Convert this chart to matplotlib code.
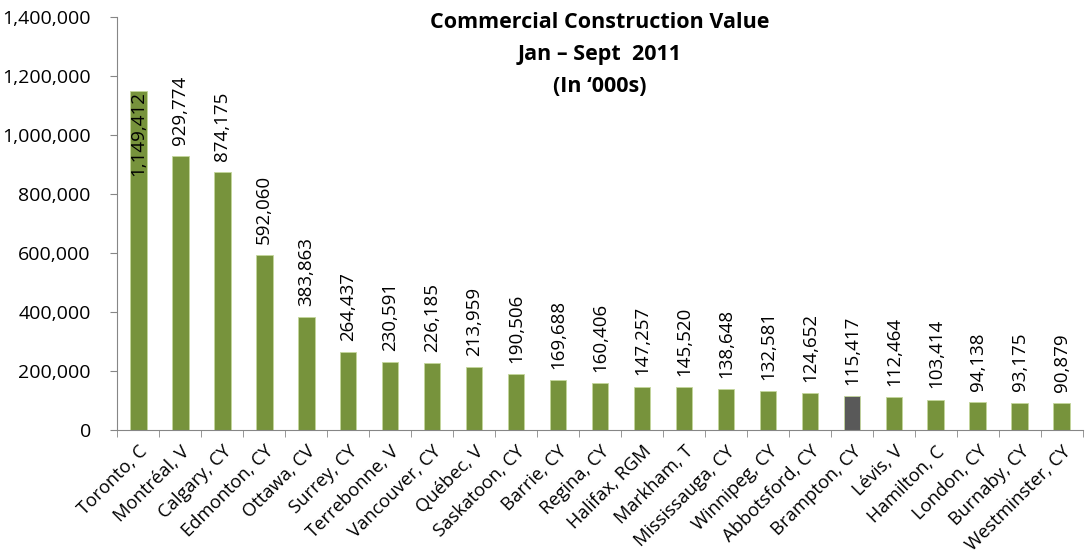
import matplotlib.pyplot as plt
from matplotlib.ticker import FuncFormatter, FixedLocator

cities = ['Toronto, C', 'Montréal, V', 'Calgary, CY', 'Edmonton, CY', 'Ottawa, CV',
          'Surrey, CY', 'Terrebonne, V', 'Vancouver, CY', 'Québec, V', 'Saskatoon, CY',
          'Barrie, CY', 'Regina, CY', 'Halifax, RGM', 'Markham, T', 'Mississauga, CY',
          'Winnipeg, CY', 'Abbotsford, CY', 'Brampton, CY', 'Lévis, V', 'Hamilton, C',
          'London, CY', 'Burnaby, CY', 'Westminster, CY']
values = [1149412, 929774, 874175, 592060, 383863, 264437, 230591, 226185, 213959,
          190506, 169688, 160406, 147257, 145520, 138648, 132581, 124652, 115417,
          112464, 103414, 94138, 93175, 90879]
highlight = 'Brampton, CY'

plt.rcParams['font.family'] = ['Open Sans', 'DejaVu Sans']

fig = plt.figure(figsize=(10.85, 5.5), dpi=100)
ax = fig.add_axes([0.108, 0.218, 0.89, 0.751])

x = list(range(len(cities)))
colors = ['#595959' if c == highlight else '#77933C' for c in cities]
ax.bar(x, values, width=0.4, color=colors, edgecolor='#c4d79b', linewidth=0.6, zorder=2)

for i, v in enumerate(values):
    if v > 1100000:
        ax.text(i, v, f'{v:,}', rotation=90, ha='center', va='top', fontsize=13.5, zorder=3)
    else:
        ax.text(i, v + 38000, f'{v:,}', rotation=90, ha='center', va='bottom', fontsize=13.5, zorder=3)

ax.set_xlim(-0.5, len(cities) - 0.5)
ax.set_ylim(0, 1400000)
ax.set_yticks(range(0, 1400001, 200000))
ax.yaxis.set_major_formatter(FuncFormatter(lambda v, p: f'{int(v):,}'))
ax.tick_params(axis='y', labelsize=14, length=5, color='#868686', direction='out', pad=14)

ax.set_xticks(x)
ax.set_xticklabels(cities, rotation=45, ha='right', rotation_mode='anchor', fontsize=13.2)
ax.xaxis.set_minor_locator(FixedLocator([i - 0.5 for i in range(len(cities) + 1)]))
ax.tick_params(axis='x', which='major', length=0, pad=9)
ax.tick_params(axis='x', which='minor', length=5, color='#868686')

for s in ['top', 'right']:
    ax.spines[s].set_visible(False)
for s in ['left', 'bottom']:
    ax.spines[s].set_color('#868686')

fig.text(0.553, 0.978, 'Commercial Construction Value\nJan – Sept  2011\n(In ‘000s)',
         ha='center', va='top', fontsize=15.5, fontweight='bold', linespacing=1.7)

fig.savefig('out.png', dpi=100)
